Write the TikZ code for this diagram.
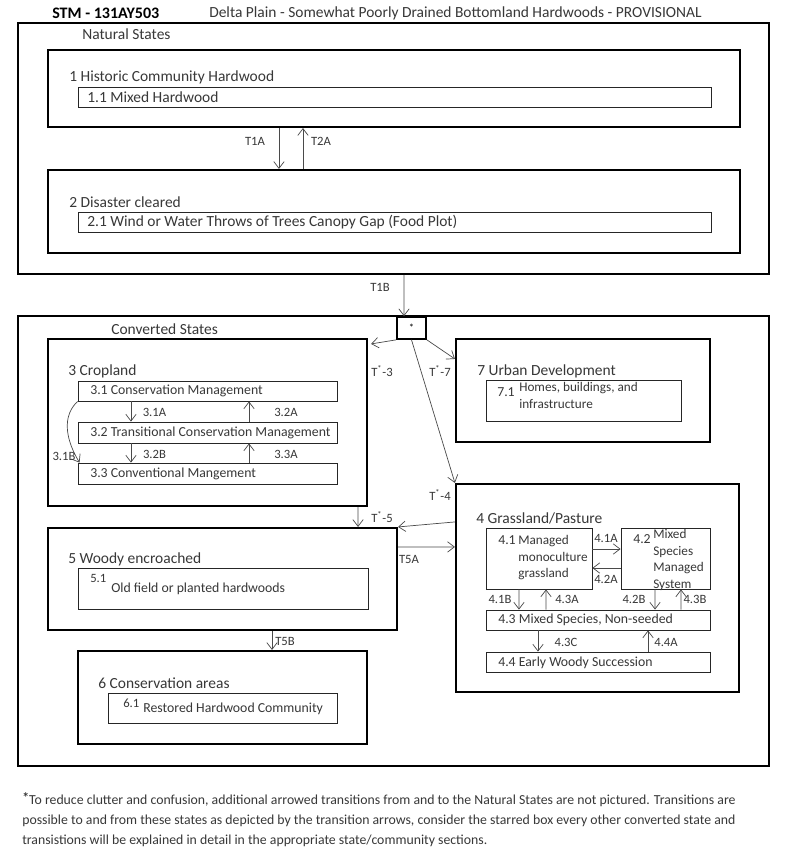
\documentclass[tikz,border=0pt]{standalone}
\usepackage{fontspec}
\setmainfont{Carlito}
\usetikzlibrary{arrows.meta}
\definecolor{inkgray}{HTML}{383838}
\definecolor{linegray}{HTML}{4A4A4A}

\begin{document}
\begin{tikzpicture}[x=0.025cm,y=-0.025cm,
  outer/.style={draw=black,line width=1.3pt,inner sep=0pt},
  state/.style={draw=black,line width=1.5pt,inner sep=0pt},
  sub/.style={draw=black!85,line width=0.6pt,inner sep=0pt},
  ttl/.style={anchor=west,inner sep=0pt,text=inkgray,font=\fontsize{11}{13}\selectfont},
  txt/.style={anchor=west,inner sep=0pt,text=inkgray,font=\fontsize{9.8}{12}\selectfont},
  lbl/.style={inner sep=0pt,text=inkgray,font=\fontsize{9}{10}\selectfont},
  tr/.style={-{Straight Barb[length=1.7mm,width=2.6mm]},line width=0.5pt,linegray}]
\fill[white] (0,0) rectangle (800,849);
\useasboundingbox (0,0) rectangle (800,849);

% heading
\node[anchor=west,inner sep=0pt,font=\fontsize{11.4}{13}\selectfont\bfseries] (stm) at (52,13) {STM - 131AY503};
\node[anchor=west,inner sep=0pt,text=inkgray,font=\fontsize{11}{13}\selectfont] (head) at (209,13)
  {Delta Plain - Somewhat Poorly Drained Bottomland Hardwoods - PROVISIONAL};

% natural states
\node[outer,minimum width=18.775cm,minimum height=6.275cm] (nat) at (393.5,148.5) {};
\node[ttl] (natlbl) at (82,34) {Natural States};
\node[state,minimum width=17.3cm,minimum height=1.925cm] (s1) at (394,88.5) {};
\node[ttl] (s1lbl) at (69,77) {1 Historic Community Hardwood};
\node[sub,minimum width=15.8cm,minimum height=0.5cm] (s11) at (395,97) {};
\node[ttl] (s11lbl) at (87,97) {1.1 Mixed Hardwood};
\node[state,minimum width=17.3cm,minimum height=2.075cm] (s2) at (394,211.5) {};
\node[ttl] (s2lbl) at (69,202) {2 Disaster cleared};
\node[sub,minimum width=15.8cm,minimum height=0.5cm] (s21) at (395,222) {};
\node[ttl] (s21lbl) at (87,222) {2.1 Wind or Water Throws of Trees Canopy Gap (Food Plot)};
\draw[tr] ([xshift=-2.875cm]s1.south) -- ([xshift=-2.875cm]s2.north);
\draw[tr] ([xshift=-2.275cm]s2.north) -- ([xshift=-2.275cm]s1.south);
\node[lbl] (t1a) at (255,141) {T1A};
\node[lbl] (t2a) at (321,141) {T2A};

% converted states
\node[outer,minimum width=18.775cm,minimum height=11.25cm] (conv) at (393.5,541) {};
\node[ttl] (convlbl) at (111,329) {Converted States};
\node[state,line width=1.2pt,fill=white,minimum width=0.725cm,minimum height=0.55cm,
  font=\fontsize{7.5}{7.5}\selectfont] (star) at (411.5,328) {*};
\draw[tr] ([xshift=0.2625cm]nat.south) -- ([xshift=-0.1875cm]star.north);
\node[lbl] (t1b) at (380,287) {T1B};

% 3 cropland
\node[state,minimum width=7.975cm,minimum height=4.175cm] (s3) at (207.5,422.5) {};
\node[ttl] (s3lbl) at (68,371) {3 Cropland};
\node[sub,minimum width=6.475cm,minimum height=0.5cm] (s31) at (207.5,391) {};
\node[sub,minimum width=6.475cm,minimum height=0.525cm] (s32) at (207.5,432.5) {};
\node[sub,minimum width=6.475cm,minimum height=0.525cm] (s33) at (207.5,473.5) {};
\node[txt] (s31lbl) at (90,391) {3.1 Conservation Management};
\node[txt] (s32lbl) at (90,432.5) {3.2 Transitional Conservation Management};
\node[txt] (s33lbl) at (90,473.5) {3.3 Conventional Mangement};
\draw[tr] ([xshift=-1.9125cm]s31.south) -- ([xshift=-1.9125cm]s32.north);
\draw[tr] ([xshift=1.0375cm]s32.north) -- ([xshift=1.0375cm]s31.south);
\draw[tr] ([xshift=-1.9125cm]s32.south) -- ([xshift=-1.9125cm]s33.north);
\draw[tr] ([xshift=1.0375cm]s33.north) -- ([xshift=1.0375cm]s32.south);
\draw[tr] (s31.south west) .. controls +(-20,19) and +(-8,-13) .. ([xshift=0.05cm]s33.north west);
\node[lbl] (l31a) at (154.5,412) {3.1A};
\node[lbl] (l32a) at (286,412) {3.2A};
\node[lbl] (l32b) at (154.5,454) {3.2B};
\node[lbl] (l33a) at (286,454) {3.3A};
\node[lbl] (l31b) at (64,456) {3.1B};

% 7 urban development
\node[state,minimum width=6.35cm,minimum height=2.575cm] (s7) at (583,390.5) {};
\node[ttl] (s7lbl) at (477,371) {7 Urban Development};
\node[sub,minimum width=4.875cm,minimum height=1.025cm] (s71) at (583.5,400.5) {};
\node[txt] (s71no) at (497,392) {7.1};
\node[txt,anchor=north west,align=left,font=\fontsize{9.4}{12}\selectfont] (s71lbl) at (519,382)
  {Homes, buildings, and\\infrastructure};

% 4 grassland/pasture
\node[state,minimum width=7.075cm,minimum height=5.2cm] (s4) at (597.5,588) {};
\node[ttl] (s4lbl) at (476,518) {4 Grassland/Pasture};
\node[sub,minimum width=2.65cm,minimum height=1.525cm] (s41) at (539,558.5) {};
\node[sub,minimum width=2.225cm,minimum height=1.525cm] (s42) at (665.5,558.5) {};
\node[sub,minimum width=5.6cm,minimum height=0.5cm] (s43) at (598,620) {};
\node[sub,minimum width=5.6cm,minimum height=0.5cm] (s44) at (598,662) {};
\node[txt] (s41no) at (498,540) {4.1};
\node[txt,anchor=north west,align=left,font=\fontsize{9.4}{11.8}\selectfont] (s41lbl) at (518,535)
  {Managed\\monoculture\\grassland};
\node[txt] (s42no) at (633,539) {4.2};
\node[txt,anchor=north west,align=left,font=\fontsize{9.4}{11.8}\selectfont] (s42lbl) at (653,529)
  {Mixed\\Species\\Managed\\System};
\node[txt] (s43lbl) at (498,620) {4.3 Mixed Species, Non-seeded};
\node[txt] (s44lbl) at (498,663) {4.4 Early Woody Succession};
\draw[tr] ([yshift=0.2375cm]s41.east) -- ([yshift=0.2375cm]s42.west);
\draw[tr] ([yshift=-0.2375cm]s42.west) -- ([yshift=-0.2375cm]s41.east);
\draw[tr] ([xshift=-0.5cm]s41.south) -- ([xshift=-1.975cm]s43.north);
\draw[tr] ([xshift=-1.3cm]s43.north) -- ([xshift=0.175cm]s41.south);
\draw[tr] ([xshift=-0.2625cm]s42.south) -- ([xshift=1.425cm]s43.north);
\draw[tr] ([xshift=2.075cm]s43.north) -- ([xshift=0.3875cm]s42.south);
\draw[tr] ([xshift=-1.5cm]s43.south) -- ([xshift=-1.5cm]s44.north);
\draw[tr] ([xshift=1.25cm]s44.north) -- ([xshift=1.25cm]s43.south);
\node[lbl] (l41a) at (606,538) {4.1A};
\node[lbl] (l42a) at (606,579) {4.2A};
\node[lbl] (l41b) at (500,599) {4.1B};
\node[lbl] (l43a) at (567,599) {4.3A};
\node[lbl] (l42b) at (634,599) {4.2B};
\node[lbl] (l43b) at (695,599) {4.3B};
\node[lbl] (l43c) at (566,642) {4.3C};
\node[lbl] (l44a) at (666,642) {4.4A};

% 5 woody encroached
\node[state,minimum width=8.725cm,minimum height=2.55cm] (s5) at (222.5,579) {};
\node[ttl] (s5lbl) at (68,559) {5 Woody encroached};
\node[sub,minimum width=7.25cm,minimum height=1.025cm] (s51) at (223,588.5) {};
\node[lbl,anchor=west] (s51no) at (90,578) {5.1};
\node[txt] (s51lbl) at (111,589) {Old field or planted hardwoods};

% 6 conservation areas
\node[state,minimum width=7.225cm,minimum height=2.325cm] (s6) at (222.5,697.5) {};
\node[ttl] (s6lbl) at (98,683) {6 Conservation areas};
\node[sub,minimum width=5.725cm,minimum height=0.75cm] (s61) at (222.5,708) {};
\node[lbl,anchor=west] (s61no) at (123,703) {6.1};
\node[txt] (s61lbl) at (143,709) {Restored Hardwood Community};

% transitions from the starred box and between states
\draw[tr] (star.south west) -- ([shift={(0.075cm,-0.15cm)}]s3.north east);
\draw[tr] (star.south east) -- ([yshift=-0.525cm]s7.north west);
\draw[tr] (star.south) -- (s4.north west);
\draw[tr] ([xshift=3.7625cm]s3.south) -- ([xshift=3.3875cm]s5.north);
\draw[tr] ([yshift=-0.975cm]s4.north west) -- (s5.north east);
\draw[tr] ([yshift=-0.5cm]s5.north east) -- ([yshift=-1.6cm]s4.north west);
\draw[tr] ([xshift=1.2375cm]s5.south) -- ([xshift=1.2375cm]s6.north);
\node[lbl] (ts3) at (382,371) {T\textsuperscript{*}-3};
\node[lbl] (ts7) at (440,371) {T\textsuperscript{*}-7};
\node[lbl] (ts4) at (440,495) {T\textsuperscript{*}-4};
\node[lbl] (ts5) at (382,517) {T\textsuperscript{*}-5};
\node[lbl] (t5a) at (409,559) {T5A};
\node[lbl] (t5b) at (285,641) {T5B};

% footnote
\node[anchor=north west,inner sep=0pt,align=left,text=inkgray,font=\fontsize{9.8}{14.4}\selectfont] (note) at (22,792)
  {\raisebox{1.5pt}{\bfseries *}To reduce clutter and confusion, additional arrowed transitions from and to the Natural States are not pictured. Transitions are\\
   possible to and from these states as depicted by the transition arrows, consider the starred box every other converted state and\\
   transistions will be explained in detail in the appropriate state/community sections.};
\end{tikzpicture}
\end{document}
